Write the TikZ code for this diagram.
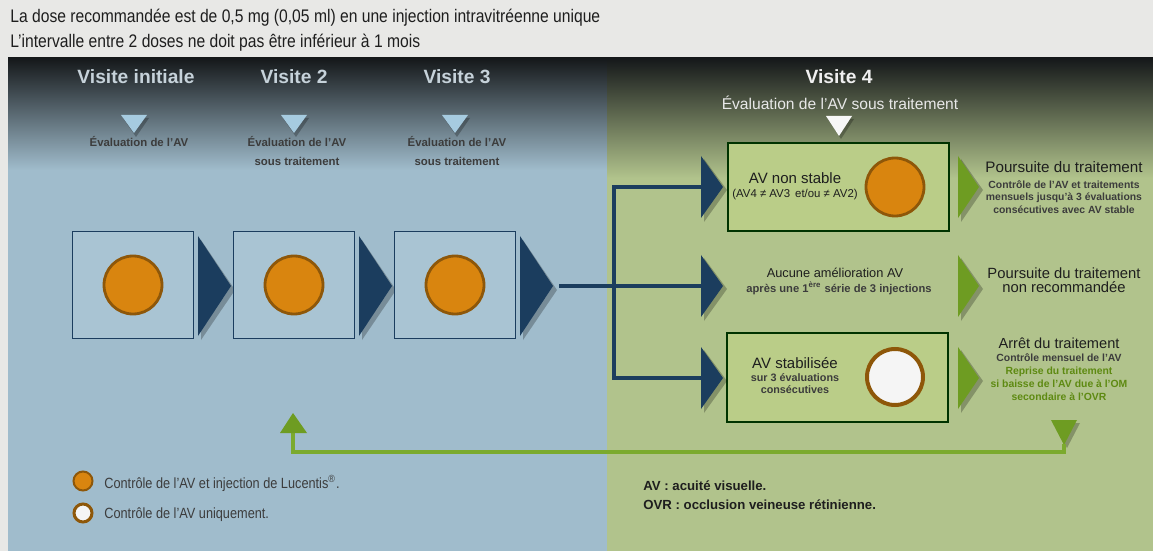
\documentclass[tikz,border=0pt]{standalone}
\usepackage{fontspec}
\setmainfont{Liberation Sans}
\newfontfamily\condfont[FakeStretch=0.86]{Liberation Sans}

\definecolor{pagegray}{HTML}{E8E8E6}
\definecolor{topdark}{HTML}{15181A}
\definecolor{bluebg}{HTML}{A0BCCC}
\definecolor{greenbg}{HTML}{B1C38C}
\definecolor{boxblue}{HTML}{A9C4D3}
\definecolor{boxgreen}{HTML}{BACD88}
\definecolor{navy}{HTML}{1B3D5E}
\definecolor{leaf}{HTML}{6E9C22}
\definecolor{leafline}{HTML}{7BAA2E}
\definecolor{skyblue}{HTML}{A6CBE0}
\definecolor{dotorange}{HTML}{D9850F}
\definecolor{dotring}{HTML}{8E5709}
\definecolor{hdrgray}{HTML}{C6D2DA}
\definecolor{textdark}{HTML}{1E1E1E}
\definecolor{textgray}{HTML}{3C3C3C}
\definecolor{textgreen}{HTML}{5E8A12}

\begin{document}
\begin{tikzpicture}
  [
    x=0.5pt, y=-0.5pt,
    every node/.style={inner sep=0pt},
    hdr/.style={font=\bfseries\fontsize{9.6}{11}\selectfont, text=hdrgray},
    evlabel/.style={font=\bfseries\fontsize{5.7}{9.5}\selectfont, text=textgray, align=center},
    toptext/.style={font=\condfont\fontsize{9.1}{10}\selectfont, text=textdark, anchor=west},
    boxtitle/.style={font=\fontsize{7.5}{9}\selectfont, text=textdark},
    boxsub/.style={font=\bfseries\fontsize{5.4}{6}\selectfont, text=textgray, align=center},
    outtitle/.style={font=\fontsize{7.6}{7}\selectfont, text=textdark, align=center},
    outsub/.style={font=\bfseries\fontsize{5.2}{6.3}\selectfont, text=textgray, align=center},
    legend/.style={font=\condfont\fontsize{7.4}{9}\selectfont, text=textgray, anchor=west},
    abbrev/.style={font=\bfseries\fontsize{6.6}{8}\selectfont, text=textdark, anchor=west},
    injdot/.style={fill=dotorange, draw=dotring, line width=1.4pt},
    ctrldot/.style={fill=white!92!gray, draw=dotring, line width=2pt},
    bluebox/.style={fill=boxblue, draw=navy, line width=.5pt},
    greenbox/.style={fill=boxgreen, draw=black!80!green, line width=.8pt},
    navyline/.style={draw=navy, line width=2.3pt},
    leafarrow/.style={draw=leafline, line width=1.7pt},
    tshadow/.style={fill=black, opacity=.25},
  ]

  % background
  \useasboundingbox (0,0) rectangle (1153,551);
  \fill[pagegray] (0,0) rectangle (1153,551);
  \fill[bluebg] (8,58) rectangle (607,551);
  \fill[greenbg] (607,58) rectangle (1153,551);
  \shade[top color=topdark, bottom color=bluebg] (8,58) rectangle (607,170);
  \shade[top color=topdark, bottom color=greenbg] (607,58) rectangle (1153,178);

  % dosage
  \node[toptext] (dose) at (10,18) {La dose recommandée est de 0,5 mg (0,05 ml) en une injection intravitréenne unique};
  \node[toptext] (interval) at (10,43) {L’intervalle entre 2 doses ne doit pas être inférieur à 1 mois};

  % visits 1 to 3
  \node[hdr] (vinit) at (136,77) {Visite initiale};
  \node[hdr] (vdeux) at (294,77) {Visite 2};
  \node[hdr] (vtrois) at (457,77) {Visite 3};
  \foreach \x in {134,294,455} {
    \fill[tshadow] (\x-11,118) -- (\x+15,118) -- (\x+2,137) -- cycle;
    \fill[skyblue] (\x-13,115) -- (\x+13,115) -- (\x,133) -- cycle;
  }
  \node[evlabel] (evinit) at (139,142) {Évaluation de l’AV};
  \node[evlabel] (evdeux) at (297,151) {Évaluation de l’AV\\sous traitement};
  \node[evlabel] (evtrois) at (457,151) {Évaluation de l’AV\\sous traitement};

  \foreach \i/\x in {1/72,2/233,3/394} {
    \draw[bluebox] (\x,232) rectangle (\x+121,338);
    \draw[injdot] (\x+61,285) circle (29);
    \fill[tshadow] (\x+129,240) -- (\x+163,290) -- (\x+129,340) -- cycle;
    \fill[navy] (\x+126,236) -- (\x+159,286) -- (\x+126,336) -- cycle;
    \coordinate (tip\i) at (\x+159,286);
  }

  % visit 4
  \node[hdr, text=white!88!gray] (vquatre) at (839,77) {Visite 4};
  \node[font=\fontsize{7.8}{9}\selectfont, text=white!82!gray] (evquatre) at (840,103) {Évaluation de l’AV sous traitement};
  \fill[tshadow] (828,119) -- (854,119) -- (841,139) -- cycle;
  \fill[white!94!gray] (826,116) -- (852,116) -- (839,136) -- cycle;

  \draw[greenbox] (728,143) rectangle (949,231);
  \draw[greenbox] (727,333) rectangle (948,422);
  \draw[injdot] (895,187) circle (29);
  \draw[ctrldot] (895,377) circle (28);

  \node[boxtitle] (unstable) at (795,178) {AV non stable};
  \node[font=\fontsize{5.7}{7}\selectfont, text=textdark] (unstablecond) at (795,195) {(AV4 ≠ AV3\, et/ou ≠ AV2)};
  \node[font=\fontsize{6.4}{8}\selectfont, text=textdark] (noimprove) at (835,273) {Aucune amélioration AV};
  \node[boxsub, font=\bfseries\fontsize{5.6}{7}\selectfont] (afterthree) at (839,288) {après une 1\textsuperscript{ère} série de 3 injections};
  \node[boxtitle] (stable) at (795,363) {AV stabilisée};
  \node[boxsub] (stablecond) at (795,384) {sur 3 évaluations\\consécutives};

  % outcomes
  \node[outtitle] (goon) at (1064,167) {Poursuite du traitement};
  \node[outsub] (goondesc) at (1064,197) {Contrôle de l’AV et traitements\\mensuels jusqu’à 3 évaluations\\consécutives avec AV stable};
  \node[outtitle, font=\fontsize{7.4}{6.8}\selectfont] (stopadv) at (1064,280) {Poursuite du traitement\\non recommandée};
  \node[outtitle, font=\fontsize{7.3}{9}\selectfont] (halt) at (1059,343) {Arrêt du traitement};
  \node[outsub] (haltctrl) at (1059,358) {Contrôle mensuel de l’AV};
  \node[outsub, text=textgreen, font=\bfseries\fontsize{5.2}{6.5}\selectfont] (resume) at (1059,384) {Reprise du traitement\\si baisse de l’AV due à l’OM\\secondaire à l’OVR};

  % branches
  \foreach \c/\n in {187/a,286/b,378/c} {
    \fill[tshadow] (704,\c-28) -- (727,\c+3) -- (704,\c+35) -- cycle;
    \fill[navy] (701,\c-31) -- (723,\c) -- (701,\c+31) -- cycle;
    \coordinate (in\n) at (701,\c);
    \fill[tshadow] (961,\c-28) -- (983,\c+3) -- (961,\c+35) -- cycle;
    \fill[leaf] (958,\c-31) -- (979,\c) -- (958,\c+31) -- cycle;
  }
  \coordinate (split) at (614,286);
  \draw[navyline] ([xshift=3pt]tip3) -- (split);
  \draw[navyline] (split) |- (ina);
  \draw[navyline] (split) -- (inb);
  \draw[navyline] (split) |- (inc);

  % back to visit 2
  \fill[tshadow] (1054,423) -- (1080,423) -- (1067,448) -- cycle;
  \fill[leaf] (1051,420) -- (1077,420) -- (1064,445) -- cycle;
  \coordinate (gdown) at (1064,444);
  \coordinate (gup) at (293,432);
  \draw[leafarrow] (gdown) -- ++(0,8) -| (gup);
  \fill[leaf] (280,433) -- (307,433) -- (293,413) -- cycle;

  % legend
  \draw[injdot, line width=1pt] (83,481) circle (9.5);
  \draw[ctrldot, line width=1.5pt] (83,513) circle (9);
  \node[legend] (leginj) at (104,483) {Contrôle de l’AV et injection de Lucentis\textsuperscript{®}.};
  \node[legend] (legctrl) at (104,515) {Contrôle de l’AV uniquement.};
  \node[abbrev] (defav) at (643,486) {AV : acuité visuelle.};
  \node[abbrev] (defovr) at (643,505) {OVR : occlusion veineuse rétinienne.};

\end{tikzpicture}
\end{document}
